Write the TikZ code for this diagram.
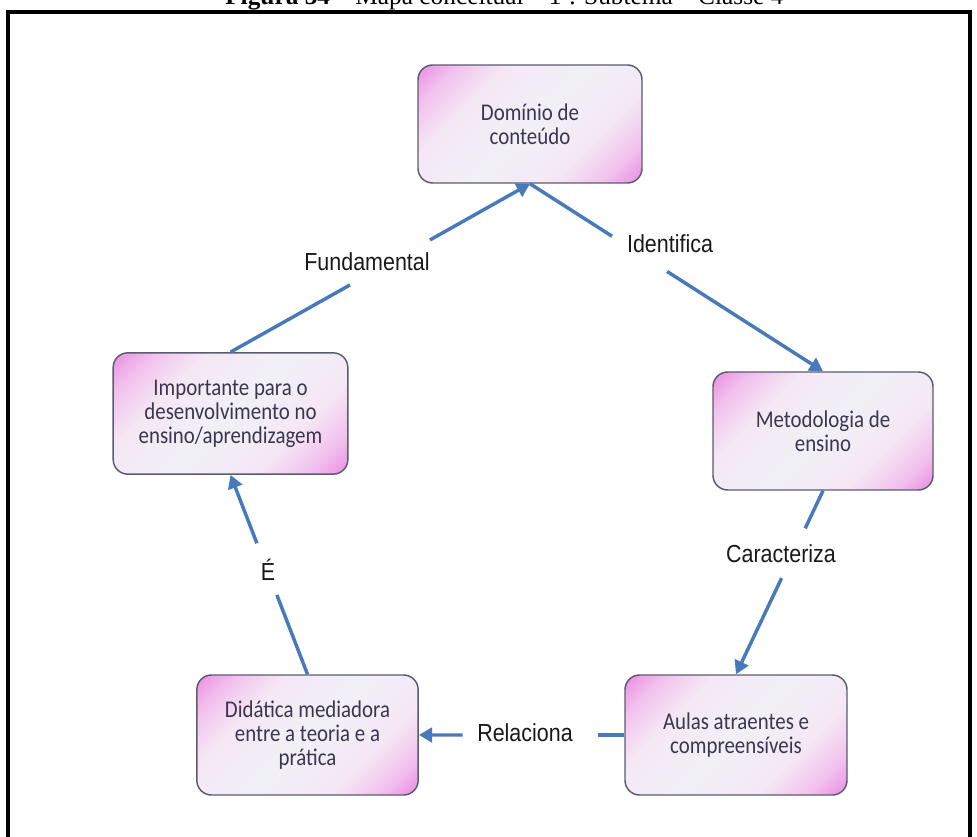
\documentclass[tikz,border=0pt]{standalone}
\usepackage{fontspec}
\setmainfont{Liberation Serif}
\newfontfamily\boxfont[FakeStretch=0.87]{Carlito}
\newfontfamily\labfont[FakeStretch=0.87]{Liberation Sans}
\usetikzlibrary{arrows.meta,calc}
\definecolor{bpink}{RGB}{236,150,228}
\definecolor{bpinkm}{RGB}{242,194,238}
\definecolor{blight}{RGB}{245,231,244}
\definecolor{bmid}{RGB}{240,240,247}
\definecolor{bordc}{RGB}{92,92,112}
\definecolor{textc}{RGB}{58,55,78}
\definecolor{connc}{RGB}{72,122,185}
\pgfdeclarehorizontalshading{boxshade}{100bp}{color(0bp)=(bpink); color(16bp)=(bpink); color(23bp)=(bpinkm); color(33bp)=(blight); color(50bp)=(bmid); color(67bp)=(blight); color(77bp)=(bpinkm); color(84bp)=(bpink); color(100bp)=(bpink)}
\tikzset{
  concept/.style={draw=bordc, line width=1.1pt, rounded corners=11pt, shade, shading=boxshade, shading angle=-45,
    align=center, text=textc, font=\boxfont\fontsize{18}{18}\selectfont, inner sep=0pt},
  conn/.style={draw=connc, line width=2.6pt},
  arr/.style={-{Triangle[length=10pt,width=11pt]}},
  lab/.style={font=\labfont\fontsize{18.5}{20}\selectfont, text=black!90, inner sep=0pt}
}
\begin{document}
\begin{tikzpicture}[x=0.75pt,y=-0.75pt]
\useasboundingbox (0,0) rectangle (977,837);
% frame
\draw[line width=2.4pt] (8,860) -- (8,12) -- (970,12) -- (970,860);
% title (cut off at top)
\node[anchor=base west, font=\fontsize{19}{22}\selectfont, inner sep=0pt] (title) at (225,5)
  {\textbf{Figura 34} – Mapa conceitual – 1º. Subtema – Classe 4};
% concept boxes
\node[concept, minimum width=168pt, minimum height=88.5pt] (dom) at (530,124) {Domínio de\\conteúdo};
\node[concept, minimum width=176pt, minimum height=91pt] (imp) at (230.5,413.5) {Importante para o\\desenvolvimento no\\ensino/aprendizagem};
\node[concept, minimum width=165pt, minimum height=88.5pt] (met) at (823,431) {Metodologia de\\ensino};
\node[concept, minimum width=166.5pt, minimum height=90pt] (aul) at (736,735) {Aulas atraentes e\\compreensíveis};
\node[concept, minimum width=166pt, minimum height=90pt] (did) at (307.5,735) {Didática mediadora\\entre a teoria e a\\prática};
% gap coordinates
\coordinate (g1a) at ($(imp.north)!0.399!(dom.south)$);
\coordinate (g1b) at ($(imp.north)!0.666!(dom.south)$);
\coordinate (g2a) at ($(dom.south)!0.28!(met.north)$);
\coordinate (g2b) at ($(dom.south)!0.468!(met.north)$);
\coordinate (g3a) at ($(met.south)!0.205!(aul.north)$);
\coordinate (g3b) at ($(met.south)!0.476!(aul.north)$);
\coordinate (g4a) at ($(aul.west)!0.13!(did.east)$);
\coordinate (g4b) at ($(aul.west)!0.787!(did.east)$);
\coordinate (g5a) at ($(did.north)!0.398!(imp.south)$);
\coordinate (g5b) at ($(did.north)!0.657!(imp.south)$);
% connectors
\draw[conn] (imp.north) -- (g1a);
\draw[conn,arr] (g1b) -- (dom.south);
\draw[conn] (dom.south) -- (g2a);
\draw[conn,arr] (g2b) -- (met.north);
\draw[conn] (met.south) -- (g3a);
\draw[conn,arr] (g3b) -- (aul.north);
\draw[conn] (aul.west) -- (g4a);
\draw[conn,arr] (g4b) -- (did.east);
\draw[conn] (did.north) -- (g5a);
\draw[conn,arr] (g5b) -- (imp.south);
% labels
\node[lab] (lf) at (367,262) {Fundamental};
\node[lab] (li) at (670,244) {Identifica};
\node[lab] (lc) at (781,554) {Caracteriza};
\node[lab] (lr) at (525,733) {Relaciona};
\node[lab] (le) at (268,570) {É};
\end{tikzpicture}
\end{document}
